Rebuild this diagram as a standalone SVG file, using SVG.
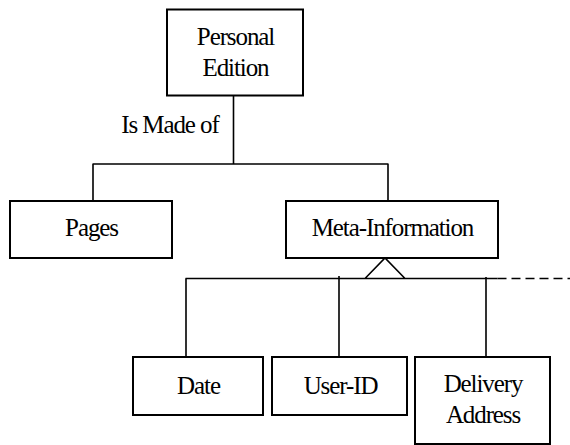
<svg xmlns="http://www.w3.org/2000/svg" width="570" height="445" viewBox="0 0 570 445">
<style>
.box{fill:#fff;stroke:#000;stroke-width:2}
.ln{fill:none;stroke:#000;stroke-width:1.6}
.dash{fill:none;stroke:#000;stroke-width:1.6;stroke-dasharray:9 5}
.t{font-family:'Liberation Serif','Times New Roman',Times,serif;font-size:25px;letter-spacing:-1.1px;fill:#000;text-anchor:middle}
</style>
<rect width="570" height="445" fill="#fff"/>
<g id="connectors">
<path class="ln" d="M233.5 95 V164 M92.5 164 H388.5 M93 164 V201 M388 164 V201"/>
<path class="ln" d="M185.5 278.5 H497.5 M365 278.5 L385 258 L405 278.5"/>
<path class="dash" d="M497.5 278.5 H570"/>
<path class="ln" d="M186 278.5 V357 M339 276 V357 M486 277 V357"/>
<text class="t" x="170" y="132.5">Is Made of</text>
</g>
<g id="personal-edition">
<rect class="box" x="167" y="9.5" width="136" height="86"/>
<text class="t" x="235.5" y="45">Personal</text>
<text class="t" x="235.5" y="76">Edition</text>
</g>
<g id="pages">
<rect class="box" x="10" y="201" width="162" height="57"/>
<text class="t" x="91.5" y="236">Pages</text>
</g>
<g id="meta-information">
<rect class="box" x="286" y="201" width="212" height="57"/>
<text class="t" x="392.5" y="236">Meta-Information</text>
</g>
<g id="date">
<rect class="box" x="133" y="357" width="130" height="58"/>
<text class="t" x="198.5" y="394">Date</text>
</g>
<g id="user-id">
<rect class="box" x="272" y="357" width="135" height="58"/>
<text class="t" x="340.5" y="394">User-ID</text>
</g>
<g id="delivery-address">
<rect class="box" x="415" y="357" width="135" height="87"/>
<text class="t" x="483" y="392">Delivery</text>
<text class="t" x="483" y="423">Address</text>
</g>
</svg>
